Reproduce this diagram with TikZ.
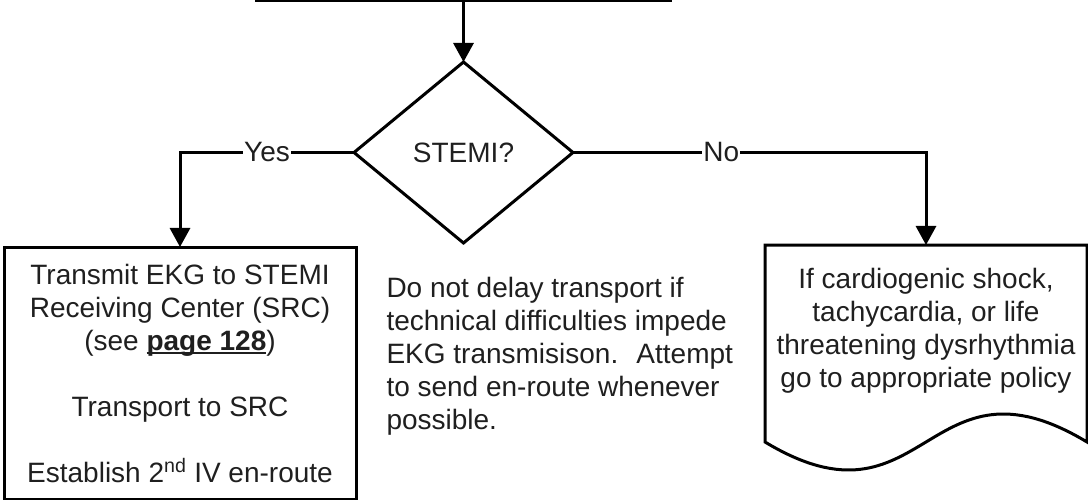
\documentclass[tikz,border=0pt]{standalone}
\usepackage{fontspec}
\setmainfont{Liberation Sans}
\usetikzlibrary{arrows.meta,shapes.geometric}
\definecolor{ink}{rgb}{0.12,0.12,0.12}
\newlength\myulw
\newcommand\myul[1]{\settowidth\myulw{#1}\rlap{\rule[-4pt]{\myulw}{2pt}}#1}
\begin{document}
\begin{tikzpicture}[x=1pt,y=-1pt,
  line width=3pt,
  every node/.style={font=\fontsize{28}{33}\selectfont, text=ink},
  arr/.style={-{Triangle[width=20pt,length=19pt]}},
  boxstyle/.style={draw, rectangle, inner sep=0pt, outer sep=0pt, align=center},
  lab/.style={fill=white, inner sep=1pt}
]
\useasboundingbox (0,0) rectangle (1088,500);
% bottom edge of the (cut-off) top box
\coordinate (topl) at (255,0.5);
\coordinate (topr) at (672,0.5);
\coordinate (topc) at (463.5,0.5);
\draw (topl) -- (topr);
% decision
\node[draw, diamond, minimum width=219pt, minimum height=181pt, inner sep=0pt, outer sep=0pt] (dia) at (463.5,152.5) {STEMI?};
% left box
\node[boxstyle, minimum width=352pt, minimum height=252pt] (lbox) at (180,373)
  {Transmit EKG to STEMI\\Receiving Center (SRC)\\(see \myul{\textbf{page 128}})\\[33pt]Transport to SRC\\[33pt]Establish 2\textsuperscript{nd} IV en-route};
% right document box
\draw (765,245) -- (1087,245) -- (1087,442) .. controls (926,345) and (926,539) .. (765,442) -- cycle;
\coordinate (rtop) at (926,245);
\node[align=center, inner sep=0pt] (nobox) at (926,331)
  {If cardiogenic shock,\\tachycardia, or life\\threatening dysrhythmia\\go to appropriate policy};
% note
\node[anchor=west, align=left, inner sep=0pt] (note) at (385,356)
  {Do not delay transport if\\technical difficulties impede\\EKG transmisison.~ Attempt\\to send en-route whenever\\possible.};
% connectors
\draw[arr] (topc) -- (dia.north);
\draw[arr] (dia.west) -| node[lab, pos=0.25] {Yes} (lbox.north);
\draw[arr] (dia.east) -| node[lab, pos=0.21] {No} (rtop);
\end{tikzpicture}
\end{document}
